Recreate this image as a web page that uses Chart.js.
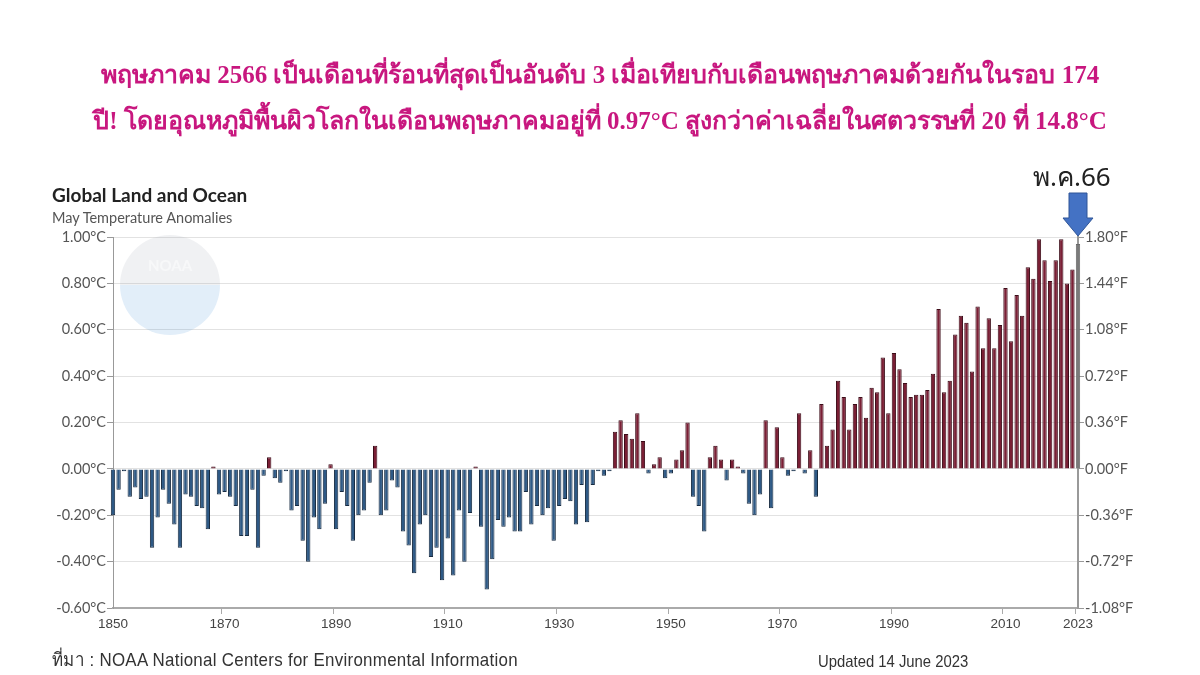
<!DOCTYPE html>
<html lang="th">
<head>
<meta charset="UTF-8">
<title>Global Land and Ocean - May Temperature Anomalies</title>
<script src="https://cdn.jsdelivr.net/npm/chart.js@4.4.0/dist/chart.umd.min.js"></script>
<style>
  html, body { margin: 0; padding: 0; background: #fff; }
  #page { position: relative; width: 1200px; height: 675px; overflow: hidden; }
  #chart { position: absolute; left: 0; top: 0; }
  #headline { position: absolute; top: 52px; left: 0; width: 1200px; text-align: center; color: #c8177f;
              font-family: "Liberation Serif", "DejaVu Serif", serif; font-weight: bold; font-size: 25px; line-height: 46px; }
  #ctitle { position: absolute; left: 52px; top: 183px; font-family: Lato, sans-serif; font-weight: bold; font-size: 19px; color: #222; }
  #csub { position: absolute; left: 52px; top: 209px; font-family: Lato, sans-serif; font-size: 14.5px; color: #555; }
  #month { position: absolute; left: 1033px; top: 156px; font-family: "Noto Sans", sans-serif; font-size: 26px; color: #222; }
  #source { position: absolute; left: 52px; top: 645px; font-family: "Liberation Sans", sans-serif; font-size: 18.2px; color: #333;
            transform: scaleX(0.93); transform-origin: left top; letter-spacing: 0.3px; }
  #updated { position: absolute; left: 818px; top: 652px; font-family: "Liberation Sans", sans-serif; font-size: 16.5px; color: #333;
             transform: scaleX(0.9); transform-origin: left top; }
</style>
</head>
<body>
<div id="page">
  <canvas id="chart" width="1200" height="675"></canvas>
  <div id="headline">พฤษภาคม 2566 เป็นเดือนที่ร้อนที่สุดเป็นอันดับ 3 เมื่อเทียบกับเดือนพฤษภาคมด้วยกันในรอบ 174<br>ปี! โดยอุณหภูมิพื้นผิวโลกในเดือนพฤษภาคมอยู่ที่ 0.97°C สูงกว่าค่าเฉลี่ยในศตวรรษที่ 20 ที่ 14.8°C</div>
  <div id="ctitle">Global Land and Ocean</div>
  <div id="csub">May Temperature Anomalies</div>
  <div id="month">พ.ค.66</div>
  <div id="source">ที่มา : NOAA National Centers for Environmental Information</div>
  <div id="updated">Updated 14 June 2023</div>
</div>

<script>
// years 1850..2023 (categories)
const years = Array.from({ length: 2023 - 1850 + 1 }, (_, i) => String(1850 + i));

// May anomalies in °C
const anomaliesC = [
  -0.20, -0.09, -0.01, -0.12, -0.08, -0.13, -0.12, -0.34, -0.21, -0.09, // 1850s
  -0.15, -0.24, -0.34, -0.11, -0.12, -0.16, -0.17, -0.26,  0.01, -0.11, // 1860s
  -0.10, -0.12, -0.16, -0.29, -0.29, -0.09, -0.34, -0.03,  0.05, -0.04, // 1870s
  -0.06, -0.01, -0.18, -0.16, -0.31, -0.40, -0.21, -0.26, -0.15,  0.02, // 1880s
  -0.26, -0.10, -0.16, -0.31, -0.20, -0.18, -0.06,  0.10, -0.20, -0.18, // 1890s
  -0.05, -0.08, -0.27, -0.33, -0.45, -0.24, -0.20, -0.38, -0.34, -0.48, // 1900s
  -0.30, -0.46, -0.18, -0.40, -0.19,  0.01, -0.25, -0.52, -0.39, -0.22, // 1910s
  -0.25, -0.21, -0.27, -0.27, -0.10, -0.24, -0.16, -0.20, -0.17, -0.31, // 1920s
  -0.16, -0.13, -0.14, -0.24, -0.07, -0.23, -0.07, -0.01, -0.03, -0.01, // 1930s
   0.16,  0.21,  0.15,  0.13,  0.24,  0.12, -0.02,  0.02,  0.05, -0.04, // 1940s
  -0.02,  0.04,  0.08,  0.20, -0.12, -0.16, -0.27,  0.05,  0.10,  0.04, // 1950s
  -0.05,  0.04,  0.01, -0.02, -0.15, -0.20, -0.11,  0.21, -0.17,  0.18, // 1960s
   0.05, -0.03, -0.01,  0.24, -0.02,  0.08, -0.12,  0.28,  0.10,  0.17, // 1970s
   0.38,  0.31,  0.17,  0.28,  0.31,  0.22,  0.35,  0.33,  0.48,  0.24, // 1980s
   0.50,  0.43,  0.37,  0.31,  0.32,  0.32,  0.34,  0.41,  0.69,  0.33, // 1990s
   0.38,  0.58,  0.66,  0.63,  0.42,  0.70,  0.52,  0.65,  0.52,  0.62, // 2000s
   0.78,  0.55,  0.75,  0.66,  0.87,  0.82,  0.99,  0.90,  0.81,  0.90, // 2010s
   0.99,  0.80,  0.86,  0.97                                            // 2020s
];

const xTickYears = ['1850', '1870', '1890', '1910', '1930', '1950', '1970', '1990', '2010', '2023'];
const yTicksC = [-0.6, -0.4, -0.2, 0, 0.2, 0.4, 0.6, 0.8, 1.0];
const highlightYear = '2023';

const tickFont = { family: 'Lato, sans-serif', size: 14.5 };

function barFill(ctx) {
  const i = ctx.dataIndex;
  if (years[i] === highlightYear) return '#7a7a7a';
  return anomaliesC[i] >= 0 ? '#7a1f35' : '#2e5985';
}
function barEdge(ctx) {
  const i = ctx.dataIndex;
  if (years[i] === highlightYear) return '#6a6a6a';
  return anomaliesC[i] >= 0 ? '#3c0c18' : '#182c42';
}

const overlay = {
  id: 'overlay',
  beforeDatasetsDraw(chart) {
    // faint NOAA watermark
    const { ctx } = chart;
    const cx = 170, cy = 285, r = 50;
    ctx.save();
    ctx.globalAlpha = 0.15;
    ctx.fillStyle = '#9aa3ad';
    ctx.beginPath(); ctx.arc(cx, cy, r, Math.PI, 0); ctx.fill();
    ctx.fillStyle = '#3d8fd6';
    ctx.beginPath(); ctx.arc(cx, cy, r, 0, Math.PI); ctx.fill();
    ctx.globalAlpha = 0.5;
    ctx.fillStyle = '#ffffff';
    ctx.font = 'bold 15px Lato, sans-serif';
    ctx.textAlign = 'center';
    ctx.fillText('NOAA', cx, cy - 14);
    ctx.restore();
  },
  afterDraw(chart) {
    // arrow pointing at the highlighted bar
    const { ctx } = chart;
    const x = chart.scales.x.getPixelForValue(years.indexOf(highlightYear));
    const tip = chart.scales.y.getPixelForValue(1.0) - 1;
    ctx.save();
    ctx.fillStyle = '#4472c4';
    ctx.strokeStyle = '#2f5597';
    ctx.lineWidth = 1;
    ctx.beginPath();
    ctx.moveTo(x - 9, tip - 43);
    ctx.lineTo(x + 9, tip - 43);
    ctx.lineTo(x + 9, tip - 18);
    ctx.lineTo(x + 15, tip - 18);
    ctx.lineTo(x, tip);
    ctx.lineTo(x - 15, tip - 18);
    ctx.lineTo(x - 9, tip - 18);
    ctx.closePath();
    ctx.fill();
    ctx.stroke();
    ctx.restore();
  }
};

new Chart(document.getElementById('chart'), {
  type: 'bar',
  data: {
    labels: years,
    datasets: [{
      data: anomaliesC,
      backgroundColor: barFill,
      borderColor: barEdge,
      borderWidth: 1,
      barPercentage: 0.78,
      categoryPercentage: 1.0,
      clip: false
    }]
  },
  options: {
    responsive: false,
    animation: false,
    layout: { padding: { left: 53, right: 50, top: 237, bottom: 37 } },
    plugins: { legend: { display: false }, tooltip: { enabled: false } },
    scales: {
      x: {
        type: 'category',
        offset: false,
        afterFit(scale) { scale.height = 30; },
        grid: {
          drawOnChartArea: false,
          tickLength: 6,
          color: ctx => xTickYears.includes(years[ctx.index]) ? '#aaa' : 'transparent'
        },
        border: { color: '#aaa', width: 2 },
        ticks: {
          autoSkip: false,
          maxRotation: 0,
          padding: 2,
          color: '#444',
          font: { family: '"Liberation Sans", sans-serif', size: 13.5 },
          callback: (v, i) => xTickYears.includes(years[i]) ? years[i] : ''
        }
      },
      y: {
        position: 'left',
        min: -0.6,
        max: 1.0,
        afterBuildTicks(scale) { scale.ticks = yTicksC.map(v => ({ value: v })); },
        afterFit(scale) { scale.width = 60; },
        grid: { color: '#e2e2e2', tickLength: 6, tickColor: '#999' },
        border: { color: '#999' },
        ticks: { color: '#555', font: tickFont, padding: 1, callback: v => v.toFixed(2) + '°C' }
      },
      y2: {
        position: 'right',
        min: -0.6 * 1.8,
        max: 1.0 * 1.8,
        afterBuildTicks(scale) { scale.ticks = yTicksC.map(v => ({ value: v * 1.8 })); },
        afterFit(scale) { scale.width = 72; },
        grid: { drawOnChartArea: false, tickLength: 6, color: '#999' },
        border: { color: '#999', width: 2 },
        ticks: { color: '#555', font: tickFont, padding: 1, callback: v => v.toFixed(2) + '°F' }
      }
    }
  },
  plugins: [overlay]
});
</script>
</body>
</html>
